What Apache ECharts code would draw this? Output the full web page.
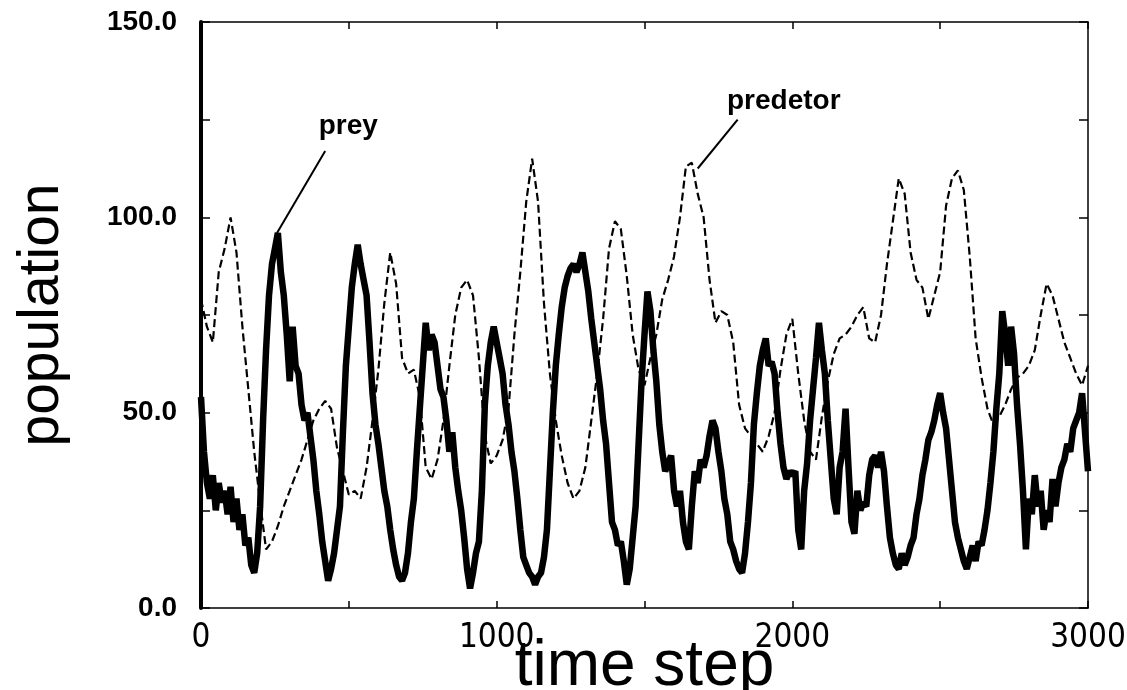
<!DOCTYPE html>
<html>
<head>
<meta charset="utf-8">
<script src="https://cdn.jsdelivr.net/npm/echarts@6/dist/echarts.min.js"></script>
<style>
html,body{margin:0;padding:0;background:#fff;}
#chart{width:1127px;height:690px;}
</style>
</head>
<body>
<div id="chart"></div>
<script>
const preyStep = 10;
const predStep = 20;

// prey population (solid, thick), t = 0,10,...,3000
const preyValues = [
  54, 40, 32, 28, 34, 25, 32, 27, 30, 24,
  31, 22, 28, 20, 24, 16, 18, 11, 9, 14,
  26, 48, 66, 80, 88, 92, 96, 86, 80, 70,
  58, 72, 62, 60, 52, 48, 50, 44, 38, 30,
  24, 17, 12, 7, 10, 14, 20, 26, 45, 62,
  72, 82, 88, 93, 88, 84, 80, 68, 55, 47,
  42, 36, 30, 26, 20, 15, 11, 8, 7, 9,
  14, 22, 28, 40, 51, 62, 73, 66, 70, 68,
  62, 56, 54, 48, 40, 45, 36, 30, 25, 18,
  10, 5, 9, 14, 17, 30, 52, 62, 68, 72,
  68, 64, 60, 52, 47, 40, 35, 28, 20, 13,
  11, 9, 8, 6, 8, 9, 13, 20, 35, 50,
  62, 70, 77, 82, 85, 87, 88, 86, 88, 91,
  86, 81, 74, 68, 62, 56, 48, 42, 32, 22,
  20, 16, 17, 12, 6, 10, 18, 26, 42, 58,
  70, 81, 76, 66, 58, 47, 40, 35, 37, 39,
  30, 26, 30, 22, 17, 15, 26, 35, 32, 38,
  36, 39, 44, 48, 46, 40, 35, 28, 24, 17,
  15, 12, 10, 9, 14, 22, 32, 47, 55, 62,
  66, 69, 62, 63, 60, 50, 42, 36, 33, 35,
  34, 35, 20, 15, 30, 37, 48, 56, 64, 73,
  66, 60, 48, 38, 28, 24, 36, 40, 51, 36,
  22, 19, 30, 25, 27, 26, 34, 38, 39, 36,
  40, 35, 26, 18, 14, 11, 10, 14, 11, 13,
  16, 18, 24, 28, 34, 38, 43, 45, 48, 52,
  55, 50, 46, 38, 30, 22, 18, 15, 12, 10,
  13, 16, 12, 17, 16, 20, 25, 32, 40, 51,
  60, 76, 70, 62, 72, 65, 52, 42, 30, 15,
  28, 24, 34, 26, 30, 20, 25, 22, 33, 26,
  32, 36, 38, 42, 40, 46, 48, 50, 55, 45,
  35
];

// predator population (dashed), t = 0,20,...,3000
const predatorValues = [
  79, 72, 68, 86, 92, 100, 91, 72, 56, 40,
  27, 15, 17, 21, 26, 30, 34, 38, 43, 48,
  51, 53, 51, 41, 35, 29, 30, 28, 36, 48,
  61, 78, 91, 83, 64, 60, 61, 54, 36, 33,
  38, 48, 62, 75, 82, 84, 80, 64, 44, 37,
  39, 43, 51, 70, 86, 104, 115, 104, 78, 60,
  48, 39, 32, 28, 30, 36, 48, 60, 74, 92,
  99, 97, 85, 70, 61, 57, 64, 70, 79, 84,
  90, 100, 113, 114, 106, 100, 84, 73, 76, 75,
  68, 52, 46, 44, 42, 40, 44, 50, 61, 70,
  74, 60, 48, 40, 38, 49, 58, 65, 69, 70,
  72, 75, 77, 69, 68, 75, 88, 99, 110, 106,
  91, 84, 82, 74, 80, 86, 103, 110, 112, 107,
  90, 69, 59, 51, 47, 49, 52, 56, 59, 60,
  62, 66, 75, 83, 80, 74, 68, 64, 60, 57,
  62
];

const yTickLabels = ['0.0', '50.0', '100.0', '150.0'];
const xTickLabels = ['0', '1000', '2000', '3000'];
const annotationTexts = ['prey', 'predetor'];

const preyData = preyValues.map((v, i) => [i * preyStep, v]);
const predData = predatorValues.map((v, i) => [i * predStep, v]);

const chart = echarts.init(document.getElementById('chart'), null, {renderer: 'canvas'});
const narrow = "'DejaVu Sans Condensed', 'Liberation Sans', sans-serif";
const sans = "'Liberation Sans', Arial, sans-serif";

const option = {
  animation: false,
  backgroundColor: '#fff',
  grid: {left: 201, right: 39, top: 22, bottom: 82, containLabel: false, outerBoundsMode: 'none'},
  xAxis: [
    {
      type: 'value', position: 'bottom', min: 0, max: 3000, interval: 500,
      axisLine: {show: true, onZero: false, lineStyle: {color: '#000', width: 1.5}},
      axisTick: {show: true, inside: true, length: 7, lineStyle: {color: '#000', width: 1.5}},
      axisLabel: {
        show: true, margin: 14, color: '#000', fontSize: 33, fontFamily: narrow,
        formatter: v => { const i = xTickLabels.indexOf(String(v)); return i >= 0 ? xTickLabels[i] : ''; }
      },
      splitLine: {show: false},
      name: 'time step', nameLocation: 'middle', nameGap: 27, nameMoveOverlap: false,
      nameTextStyle: {fontSize: 64, color: '#000', fontFamily: sans}
    },
    {
      type: 'value', position: 'top', min: 0, max: 3000, interval: 500,
      axisLine: {show: true, onZero: false, lineStyle: {color: '#000', width: 1.5}},
      axisTick: {show: true, inside: true, length: 7, lineStyle: {color: '#000', width: 1.5}},
      axisLabel: {show: false}, splitLine: {show: false}
    }
  ],
  yAxis: [
    {
      type: 'value', position: 'left', min: 0, max: 150, interval: 25,
      axisLine: {show: true, onZero: false, lineStyle: {color: '#000', width: 4}},
      axisTick: {show: true, inside: true, length: 9, lineStyle: {color: '#000', width: 1.5}},
      axisLabel: {
        show: true, margin: 24, color: '#000', fontSize: 28, fontWeight: 'bold', fontFamily: sans,
        formatter: v => { const i = yTickLabels.indexOf(v.toFixed(1)); return i >= 0 ? yTickLabels[i] : ''; }
      },
      splitLine: {show: false},
      name: 'population', nameLocation: 'middle', nameGap: 130, nameMoveOverlap: false,
      nameTextStyle: {fontSize: 57, color: '#000', fontFamily: sans}
    },
    {
      type: 'value', position: 'right', min: 0, max: 150, interval: 25,
      axisLine: {show: true, onZero: false, lineStyle: {color: '#000', width: 1.5}},
      axisTick: {show: true, inside: true, length: 9, lineStyle: {color: '#000', width: 1.5}},
      axisLabel: {show: false}, splitLine: {show: false}
    }
  ],
  series: [
    {
      name: 'predator', type: 'line', data: predData, xAxisIndex: 0, yAxisIndex: 0,
      showSymbol: false, symbol: 'none', smooth: false,
      lineStyle: {color: '#000', width: 2.2, type: [8, 4]},
      z: 2
    },
    {
      name: 'prey', type: 'line', data: preyData, xAxisIndex: 0, yAxisIndex: 0,
      showSymbol: false, symbol: 'none', smooth: false,
      lineStyle: {color: '#000', width: 6.5, join: 'bevel'},
      z: 3,
      markLine: {
        silent: true, symbol: ['none', 'none'], animation: false,
        label: {show: false},
        lineStyle: {color: '#000', width: 2, type: 'solid'},
        data: [
          [{coord: [257, 96]}, {coord: [420, 117]}],
          [{coord: [1680, 112.5]}, {coord: [1815, 125]}]
        ]
      },
      markPoint: {
        silent: true, symbol: 'circle', symbolSize: 0, animation: false,
        label: {show: true, position: 'inside', color: '#000', fontSize: 28, fontWeight: 'bold', fontFamily: sans,
          formatter: p => p.name},
        data: [
          {name: annotationTexts[0], coord: [498, 123.4]},
          {name: annotationTexts[1], coord: [1971, 129.6]}
        ]
      }
    }
  ]
};
chart.setOption(option);
</script>
</body>
</html>
